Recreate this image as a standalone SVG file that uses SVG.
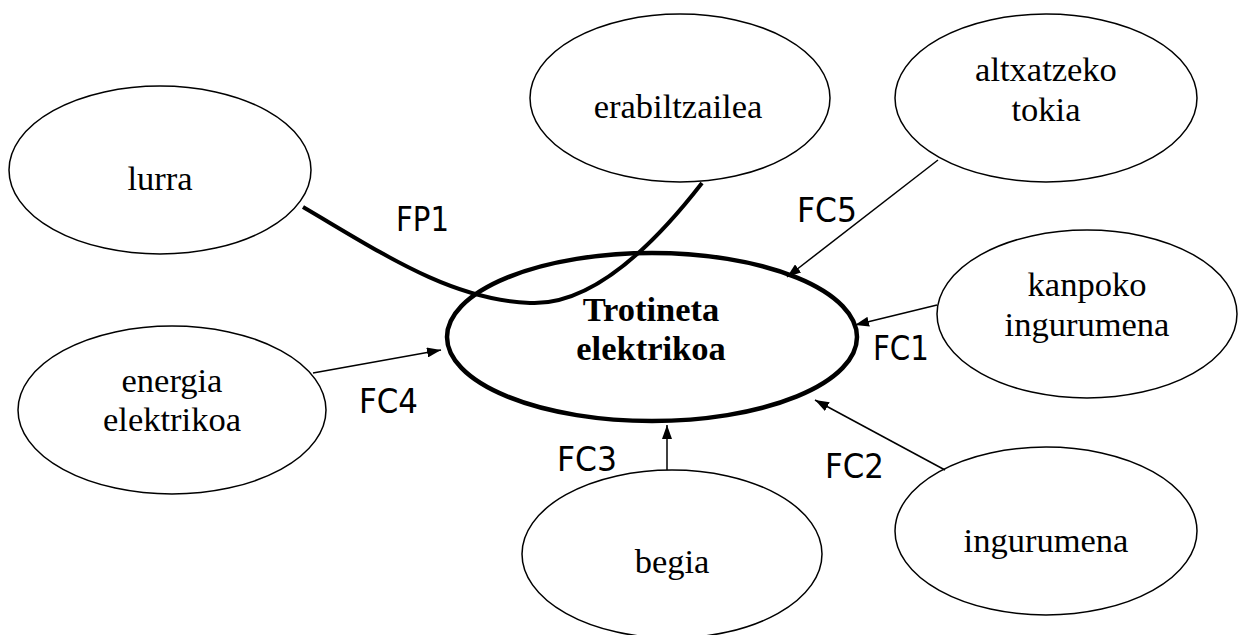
<svg xmlns="http://www.w3.org/2000/svg" width="1256" height="635" viewBox="0 0 1256 635">
<style>
.n{fill:#fff;stroke:#000;stroke-width:1.5}
.t{font-family:"Liberation Serif","Times New Roman",serif;font-size:34.5px;text-anchor:middle;fill:#000}
.b{font-weight:bold}
.l{font-family:"DejaVu Sans",sans-serif;font-size:33px;fill:#000}
.c{fill:none;stroke:#000;stroke-width:1.5}
</style>
<defs>
<marker id="a" viewBox="0 0 14 10" refX="14" refY="5" markerWidth="14" markerHeight="10" markerUnits="userSpaceOnUse" orient="auto">
<path d="M0,0 L14,5 L0,10 z" fill="#000"/>
</marker>
</defs>
<rect width="1256" height="635" fill="#fff"/>
<g id="lurra"><ellipse class="n" cx="160" cy="170" rx="151" ry="84"/><text class="t" x="160" y="190">lurra</text></g>
<g id="erabiltzailea"><ellipse class="n" cx="680" cy="98" rx="150" ry="84"/><text class="t" x="678" y="118">erabiltzailea</text></g>
<g id="altxatzeko"><ellipse class="n" cx="1046" cy="98" rx="151" ry="84"/><text class="t" x="1046" y="81">altxatzeko</text><text class="t" x="1046" y="121">tokia</text></g>
<g id="kanpoko"><ellipse class="n" cx="1087" cy="314" rx="150" ry="84"/><text class="t" x="1087" y="296">kanpoko</text><text class="t" x="1087" y="336">ingurumena</text></g>
<g id="energia"><ellipse class="n" cx="172" cy="410" rx="154" ry="84"/><text class="t" x="172" y="392">energia</text><text class="t" x="172" y="431">elektrikoa</text></g>
<g id="begia"><ellipse class="n" cx="672" cy="554" rx="150" ry="84"/><text class="t" x="672" y="573">begia</text></g>
<g id="ingurumena"><ellipse class="n" cx="1046" cy="531" rx="151" ry="84"/><text class="t" x="1046" y="552">ingurumena</text></g>
<g id="trotineta"><ellipse cx="652" cy="337" rx="205" ry="84" fill="none" stroke="#000" stroke-width="4.5"/><text class="t b" x="651" y="321">Trotineta</text><text class="t b" x="651" y="360">elektrikoa</text></g>
<g id="connectors">
<path d="M303,207 C380,252 450,300 530,303 C590,306 650,250 702,183" fill="none" stroke="#000" stroke-width="4"/>
<line class="c" x1="938" y1="160" x2="787" y2="277" marker-end="url(#a)"/>
<line class="c" x1="937" y1="305" x2="855" y2="325" marker-end="url(#a)"/>
<line class="c" x1="313" y1="373" x2="441" y2="350" marker-end="url(#a)"/>
<line class="c" x1="667" y1="470" x2="667" y2="425" marker-end="url(#a)"/>
<line class="c" x1="945" y1="470" x2="815" y2="400" marker-end="url(#a)"/>
</g>
<g id="labels">
<text class="l" x="396" y="231" textLength="53" lengthAdjust="spacingAndGlyphs">FP1</text>
<text class="l" x="797" y="222" textLength="60" lengthAdjust="spacingAndGlyphs">FC5</text>
<text class="l" x="873" y="360" textLength="56" lengthAdjust="spacingAndGlyphs">FC1</text>
<text class="l" x="359" y="413" textLength="59" lengthAdjust="spacingAndGlyphs">FC4</text>
<text class="l" x="557" y="471" textLength="60" lengthAdjust="spacingAndGlyphs">FC3</text>
<text class="l" x="825" y="478" textLength="59" lengthAdjust="spacingAndGlyphs">FC2</text>
</g>
</svg>
